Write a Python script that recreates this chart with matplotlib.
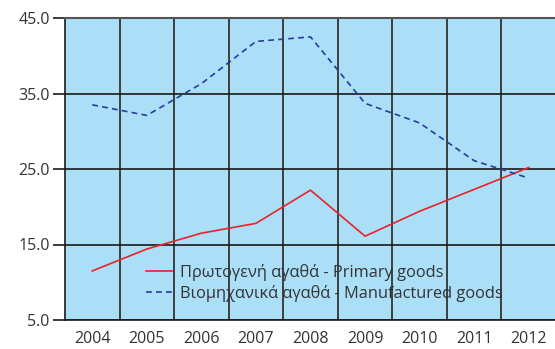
import numpy as np
import matplotlib.pyplot as plt

years = ['2004', '2005', '2006', '2007', '2008', '2009', '2010', '2011', '2012']
primary = [11.5, 14.4, 16.5, 17.8, 22.2, 16.1, 19.4, 22.3, 25.2]
manufactured = [33.5, 32.1, 36.3, 41.9, 42.5, 33.7, 31.1, 26.1, 23.8]
yticks = [5, 15, 25, 35, 45]

plt.rcParams['font.family'] = ['Open Sans', 'DejaVu Sans']

fig = plt.figure(figsize=(5.55, 3.49), dpi=100)
ax = fig.add_axes([65 / 555, 1 - 320 / 349, 491 / 555, 302 / 349])
ax.set_facecolor('#abdff8')

x = np.arange(len(years))
ax.plot(x, primary, color='#e8232a', lw=1.2,
        label='Πρωτογενή αγαθά - Primary goods')
ax.plot(x, manufactured, color='#2b3a9b', lw=1.2, dashes=(3.5, 2.5),
        label='Βιομηχανικά αγαθά - Manufactured goods')

ax.set_xlim(-0.5, len(years) - 0.5)
ax.set_ylim(5, 45)
ax.set_yticks(yticks)
ax.set_yticklabels([f'{v:.1f}' for v in yticks])
ax.set_xticks(x)
ax.set_xticklabels(years)
ax.set_xticks(x[:-1] + 0.5, minor=True)

ax.grid(axis='y', which='major', color='#1a1a1a', lw=1.2)
ax.grid(axis='x', which='minor', color='#333333', lw=1.3)
ax.set_axisbelow(True)

ax.spines['right'].set_visible(False)
ax.spines['top'].set_color('#555555')
ax.spines['top'].set_linewidth(1.5)
for s in ['left', 'bottom']:
    ax.spines[s].set_color('#1a1a1a')
    ax.spines[s].set_linewidth(1.2)

ax.tick_params(axis='y', which='major', length=9, width=1.2, color='#1a1a1a',
               labelsize=11.5, labelcolor='#333333', pad=2)
ax.tick_params(axis='x', which='major', length=0, labelsize=11.5,
               labelcolor='#333333', pad=8)
ax.tick_params(axis='x', which='minor', length=0)

ax.legend(loc='upper left', bbox_to_anchor=(146 / 555, 1 - 264 / 349),
          bbox_transform=fig.transFigure, frameon=False, fontsize=11.8,
          handlelength=1.6, handletextpad=0.5, labelspacing=0.25,
          borderaxespad=0, borderpad=0, labelcolor='#333333')

fig.savefig('out.png', dpi=100)
